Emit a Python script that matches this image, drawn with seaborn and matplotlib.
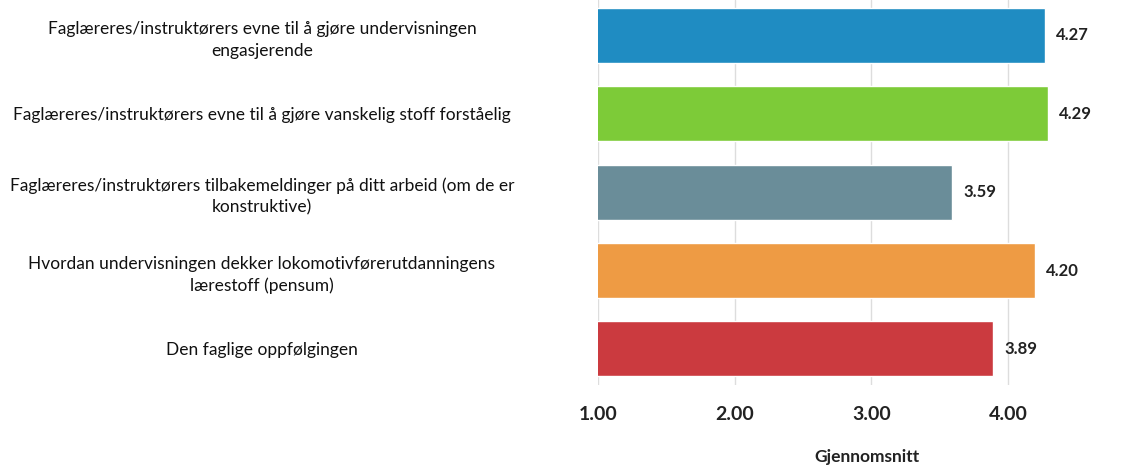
import matplotlib
matplotlib.use("Agg")
import matplotlib.pyplot as plt
import seaborn as sns
import pandas as pd

# data
categories = [
    "Faglæreres/instruktørers evne til å gjøre undervisningen\nengasjerende",
    "Faglæreres/instruktørers evne til å gjøre vanskelig stoff forståelig",
    "Faglæreres/instruktørers tilbakemeldinger på ditt arbeid (om de er\nkonstruktive)",
    "Hvordan undervisningen dekker lokomotivførerutdanningens\nlærestoff (pensum)",
    "Den faglige oppfølgingen",
]
values = [4.27, 4.29, 3.59, 4.20, 3.89]
colors = ["#1F8CC2", "#7DCB38", "#6A8D99", "#EE9B44", "#CB3A3F"]
xticks = [1, 2, 3, 4]
xlabel = "Gjennomsnitt"

sns.set_theme(style="white")
plt.rcParams["font.family"] = ["Lato", "DejaVu Sans"]

df = pd.DataFrame({"kategori": categories, "snitt": values})

fig = plt.figure(figsize=(11.37, 4.66), dpi=100)
# axes placed in pixels: x=1.00 at 598px, axis bottom at 385px
ax = fig.add_axes([598 / 1137, 1 - 385 / 466, (1137 - 598) / 1137, 385 / 466])

sns.barplot(data=df, y="kategori", x="snitt", hue="kategori", palette=colors,
            width=0.70, legend=False, ax=ax, saturation=1)

ax.set_xlim(1, 1 + (1137 - 598) / 136.7)
ax.set_ylim(4.46, -0.45)
ax.set_xticks(xticks)
ax.set_xticklabels([f"{t:.2f}" for t in xticks], fontsize=14, fontweight="bold", color="#222222")
ax.tick_params(axis="x", length=0, pad=15)
ax.tick_params(axis="y", length=0, pad=242)
for lbl in ax.get_yticklabels():
    lbl.set_horizontalalignment("center")
    lbl.set_multialignment("center")
    lbl.set_fontsize(12.5)
    lbl.set_linespacing(1.45)
    lbl.set_color("#111111")

ax.grid(axis="x", color="#dddddd", linewidth=1)
ax.set_axisbelow(True)
for s in ax.spines.values():
    s.set_visible(False)

for i, v in enumerate(values):
    ax.text(v + 0.08, i, f"{v:.2f}", va="center", ha="left",
            fontsize=12, fontweight="bold", color="#222222")

ax.set_ylabel("")
ax.set_xlabel(xlabel, fontsize=12.5, fontweight="bold", color="#222222")
ax.xaxis.set_label_coords((867 - 598) / (1137 - 598), -(457 - 385) / 385)
ax.xaxis.label.set_verticalalignment("center")

fig.savefig("out.png", dpi=100)
